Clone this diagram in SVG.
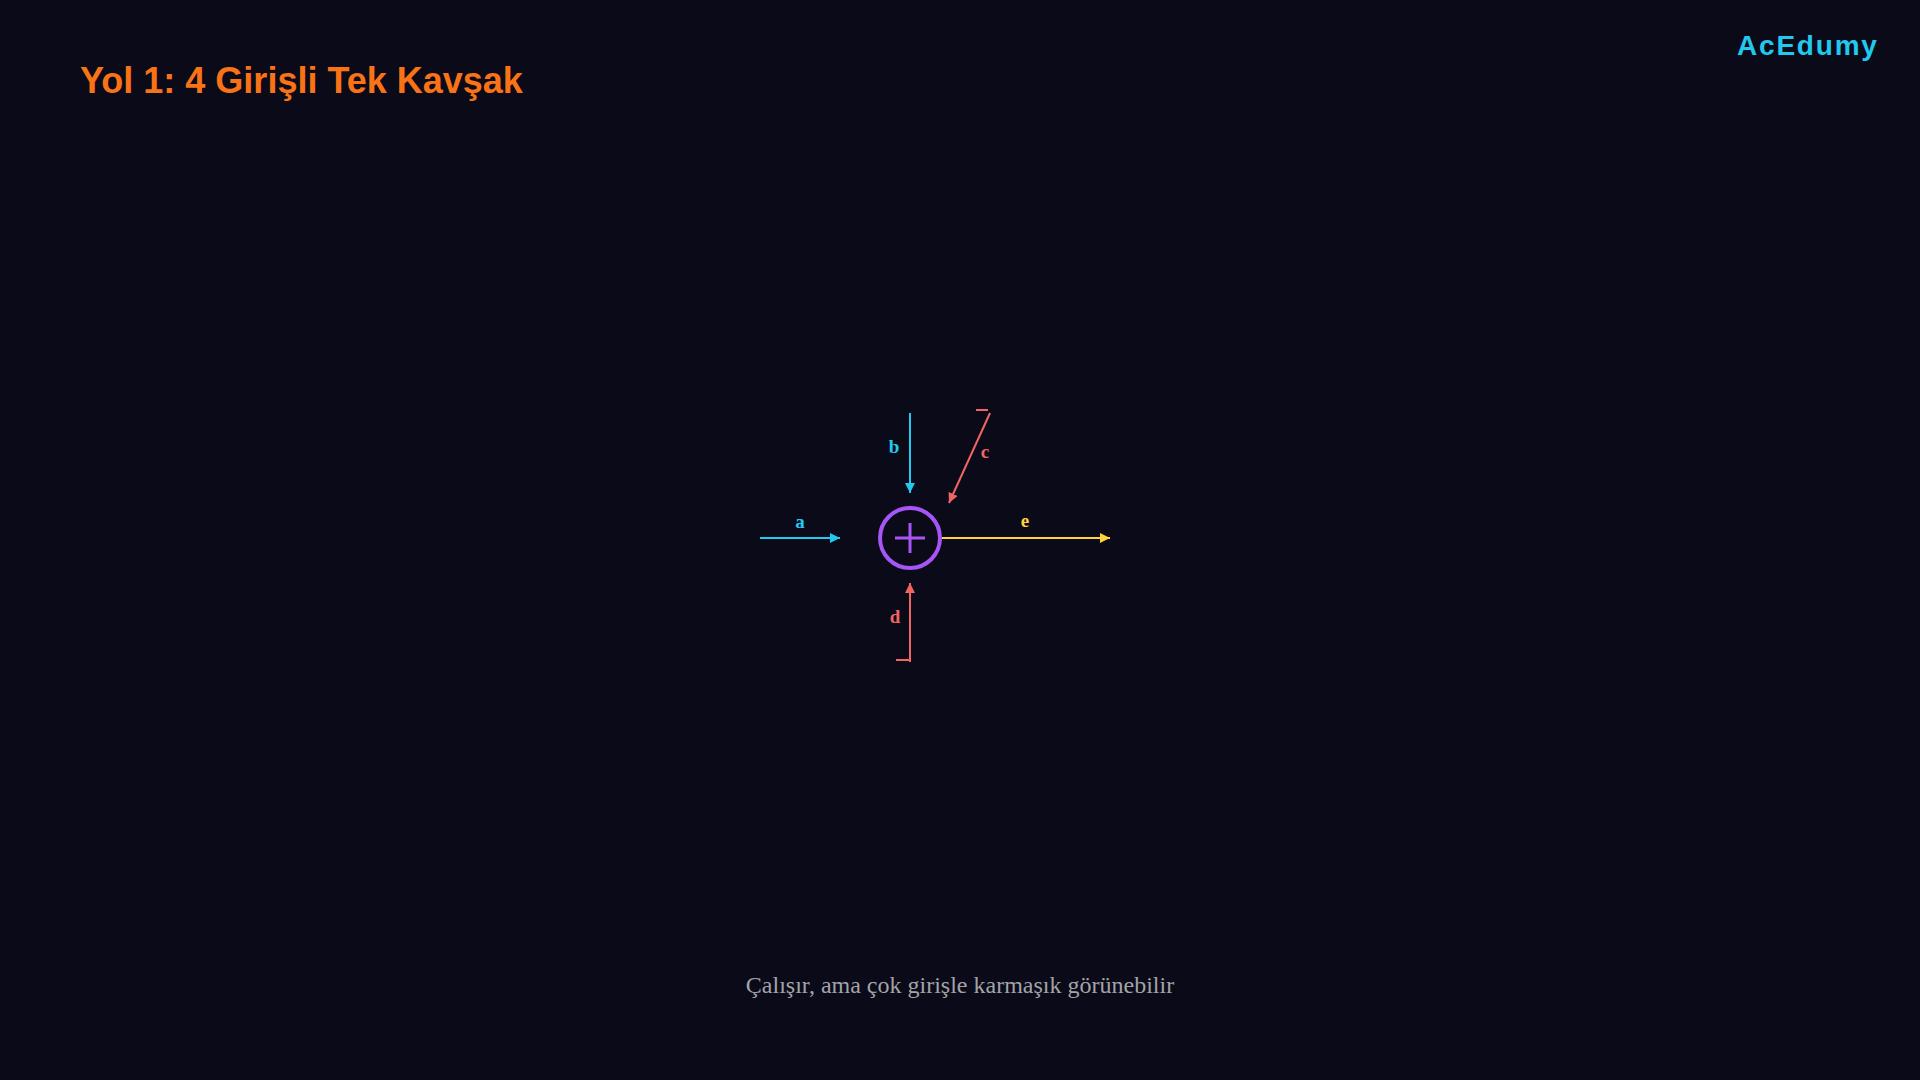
<svg xmlns="http://www.w3.org/2000/svg" width="1920" height="1080" viewBox="0 0 1920 1080">
<defs>
<style>
.title{font-family:"Liberation Sans",Arial,sans-serif;font-weight:bold;font-size:36px;fill:#f97316}
.brand{font-family:"Liberation Sans",Arial,sans-serif;font-weight:bold;font-size:28px;fill:#22c8ee;letter-spacing:1.8px}
.foot{font-family:"Liberation Serif","Times New Roman",serif;font-size:24px;fill:#a3a3a8}
.lbl{font-family:"Liberation Serif","Times New Roman",serif;font-weight:bold;font-size:19px;text-anchor:middle}
.cy{stroke:#22c8ee;fill:none;stroke-width:2}
.rd{stroke:#f26464;fill:none;stroke-width:2}
.yl{stroke:#ffd43b;fill:none;stroke-width:2}
</style>
<marker id="mc" viewBox="0 0 10 10" refX="10" refY="5" markerWidth="5" markerHeight="5" orient="auto" markerUnits="strokeWidth"><path d="M0,0 L10,5 L0,10 z" fill="#22c8ee"/></marker>
<marker id="mr" viewBox="0 0 10 10" refX="10" refY="5" markerWidth="5" markerHeight="5" orient="auto" markerUnits="strokeWidth"><path d="M0,0 L10,5 L0,10 z" fill="#f26464"/></marker>
<marker id="my" viewBox="0 0 10 10" refX="10" refY="5" markerWidth="5" markerHeight="5" orient="auto" markerUnits="strokeWidth"><path d="M0,0 L10,5 L0,10 z" fill="#ffd43b"/></marker>
</defs>
<rect width="1920" height="1080" fill="#0a0a19"/>
<text class="title" x="80" y="93">Yol 1: 4 Girişli Tek Kavşak</text>
<text class="brand" x="1737" y="55">AcEdumy</text>
<g id="connectors">
<line class="cy" x1="760" y1="538" x2="840" y2="538" marker-end="url(#mc)"/>
<line class="cy" x1="910" y1="413" x2="910" y2="493" marker-end="url(#mc)"/>
<line class="rd" x1="990" y1="413" x2="949" y2="503" marker-end="url(#mr)"/>
<line class="rd" x1="976" y1="410" x2="988" y2="410"/>
<line class="rd" x1="910" y1="662" x2="910" y2="583" marker-end="url(#mr)"/>
<line class="rd" x1="896" y1="660" x2="910" y2="660"/>
<line class="yl" x1="940" y1="538" x2="1110" y2="538" marker-end="url(#my)"/>
<text class="lbl" x="800" y="528" fill="#22c8ee">a</text>
<text class="lbl" x="894" y="453" fill="#22c8ee">b</text>
<text class="lbl" x="985" y="458" fill="#f26464">c</text>
<text class="lbl" x="895" y="623" fill="#f26464">d</text>
<text class="lbl" x="1025" y="527" fill="#ffd43b">e</text>
</g>
<g id="sum">
<circle cx="910" cy="538" r="30" fill="none" stroke="#a855f7" stroke-width="4"/>
<path d="M895,538 H925 M910,523 V553" stroke="#a855f7" stroke-width="3" fill="none"/>
</g>
<text class="foot" x="960" y="993" text-anchor="middle">Çalışır, ama çok girişle karmaşık görünebilir</text>
</svg>
